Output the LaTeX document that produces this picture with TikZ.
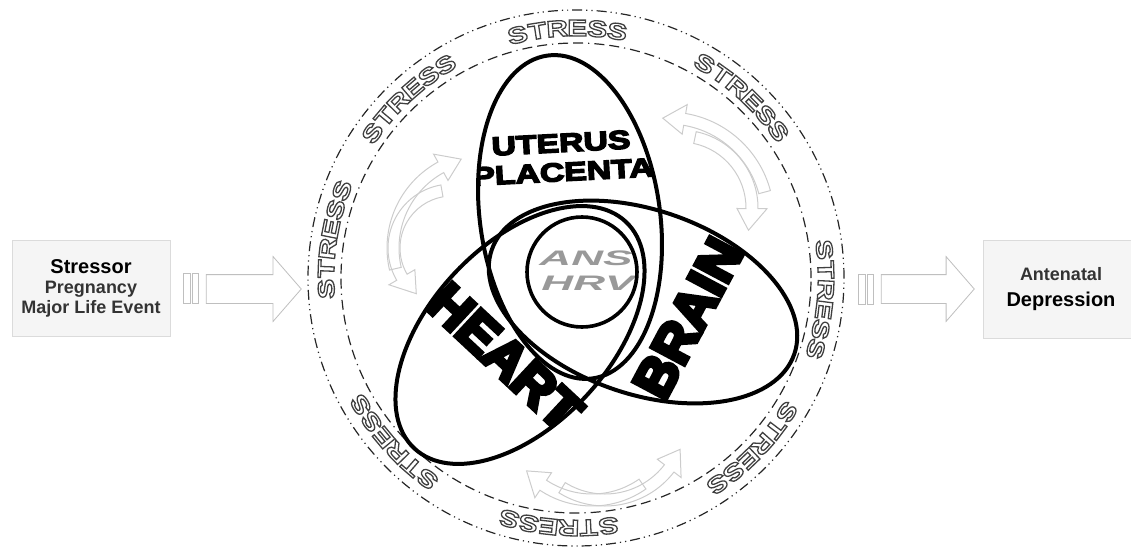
\documentclass[tikz,border=0pt]{standalone}
\usepackage{fontspec}
\setmainfont{Liberation Sans}
\newfontfamily\heavyfont[FakeBold=8]{Liberation Sans Bold}
\newfontfamily\wideheavyfont[FakeBold=6,FakeStretch=1.3]{Liberation Sans Bold}
\newfontfamily\stressfont[FakeStretch=1.3]{Liberation Sans Bold}
\newfontfamily\ansfont{Liberation Sans Bold Italic}
\usetikzlibrary{shapes.arrows,calc}

% hollow (stroked) glyphs
\newcommand\hollow{\special{pdf:literal direct 1 Tr 0.65 w}}

% curved block arrow: centre x, centre y, radius, start angle, end angle
\newcommand{\bentarrow}[5]{%
  \pgfmathsetmacro\headang{((#5>#4)?-1:1)*22/#3*57.3}
  \pgfmathsetmacro\headbase{#5+\headang}
  \pgfmathsetmacro\ro{#3+6}
  \pgfmathsetmacro\ri{#3-6}
  \pgfmathsetmacro\rh{#3+15}
  \pgfmathsetmacro\rl{#3-15}
  \draw[bentarr] (#1,#2) ++(#4:\ro) arc[start angle=#4,end angle=\headbase,radius=\ro]
    -- ($(#1,#2)+(\headbase:\rh)$) -- ($(#1,#2)+(#5:#3)$)
    -- ($(#1,#2)+(\headbase:\rl)$) -- ($(#1,#2)+(\headbase:\ri)$)
    arc[start angle=\headbase,end angle=#4,radius=\ri] -- cycle;
}

\begin{document}
\begin{tikzpicture}[x=0.5pt,y=0.5pt,
  sidebox/.style={draw=black!14,fill=black!4,inner sep=0pt,align=center},
  blockarr/.style={single arrow,draw=black!25,fill=white,inner sep=7pt,
    single arrow head extend=9pt,single arrow tip angle=98,minimum width=32pt},
  bar/.style={draw=black!25,fill=white,inner sep=0pt,minimum width=3.5pt,minimum height=15pt},
  bentarr/.style={draw=black!20,line width=0.5pt},
  ringout/.style={black!85,line width=0.6pt,dash pattern=on 5pt off 2pt on 0.6pt off 2pt on 0.6pt off 2pt},
  ringin/.style={black!85,line width=0.6pt,dash pattern=on 5pt off 2.5pt on 5pt off 2.5pt on 0.6pt off 2.5pt},
  organ/.style={line width=2pt,black},
  stressch/.style={inner sep=0pt,text=black!75,font=\stressfont\fontsize{11.5}{11.5}\selectfont}]

  \useasboundingbox (0,0) rectangle (1131,548);
  \coordinate (ringc) at (576,270);

  % boxes left and right
  \node[sidebox,minimum width=79pt,minimum height=48pt,font=\bfseries\fontsize{9}{10}\selectfont]
    (stressor) at (91,260) {{\fontsize{10}{10}\selectfont Stressor}\\
    \textcolor{black!80}{Pregnancy}\\ \textcolor{black!80}{Major Life Event}};
  \node[sidebox,minimum width=78pt,minimum height=49pt,font=\bfseries\fontsize{9}{10}\selectfont]
    (depression) at (1061,259) {\textcolor{black!80}{Antenatal}\\[3pt]
    {\fontsize{10}{10}\selectfont Depression}};

  % block arrows
  \node[bar] (inbar1) at (186.5,260) {};
  \node[bar,minimum width=3pt] (inbar2) at (195,260) {};
  \node[blockarr,minimum height=47.5pt] (inarrow) at (247.5,259) {};
  \node[bar] (outbar1) at (861.5,259) {};
  \node[bar,minimum width=3pt] (outbar2) at (870,259) {};
  \node[blockarr,minimum height=46.5pt] (outarrow) at (921.5,259) {};

  % stress ring
  \draw[ringout] (ringc) circle[radius=268];
  \draw[ringin] (ringc) circle[radius=235];
  \foreach \ang [count=\k] in {92,133,171,222,266,316,355,47.5} {
    \foreach \ch [count=\i] in {S,T,R,E,S,S} {
      \node[stressch,rotate={\ang+(3.5-\i)*4.6-90}] (st\k-\i)
        at ($(ringc)+({\ang+(3.5-\i)*4.6}:250)$) {\hollow\ch};
    }
  }

  % feedback arrows
  \bentarrow{485}{300}{92}{193}{105}
  \bentarrow{452}{300}{58}{100}{232}
  \bentarrow{668}{330}{100}{15}{93}
  \bentarrow{680}{340}{72}{78}{-18}
  \bentarrow{592}{136}{88}{305}{222}
  \bentarrow{605}{129}{81}{238}{338}

  % labels
  \begin{scope}
    \clip[rotate around={8:(570,331)}] (570,331) ellipse[x radius=90,y radius=163];
    \node[font=\wideheavyfont\fontsize{13}{13}\selectfont,rotate=3] (uterus) at (561,405) {UTERUS};
    \node[font=\wideheavyfont\fontsize{13}{13}\selectfont,rotate=3] (placenta) at (563,376) {PLACENTA};
  \end{scope}
  \begin{scope}
    \clip (582,276) circle[radius=55];
    \node[font=\ansfont\fontsize{10.5}{10.5}\selectfont,text=black!40,xscale=2.1,transform shape]
      (ans) at (586,290) {ANS};
    \node[font=\ansfont\fontsize{10.5}{10.5}\selectfont,text=black!40,xscale=2.1,transform shape]
      (hrv) at (588,265) {HRV};
  \end{scope}
  \node[font=\heavyfont\fontsize{27}{27}\selectfont,rotate=-43] (heart) at (505,191) {HEART};
  \node[font=\heavyfont\fontsize{27}{27}\selectfont,rotate=62] (brain) at (688,230) {BRAIN};

  % venn
  \draw[organ,rotate around={8:(570,331)}] (570,331) ellipse[x radius=90,y radius=163];
  \draw[organ,rotate around={47:(520,213)}] (520,213) ellipse[x radius=155,y radius=90];
  \draw[organ,rotate around={-19:(643,246)}] (643,246) ellipse[x radius=160,y radius=92];
  \draw[organ,line width=1.8pt] (582,276) circle[radius=55];
\end{tikzpicture}
\end{document}
